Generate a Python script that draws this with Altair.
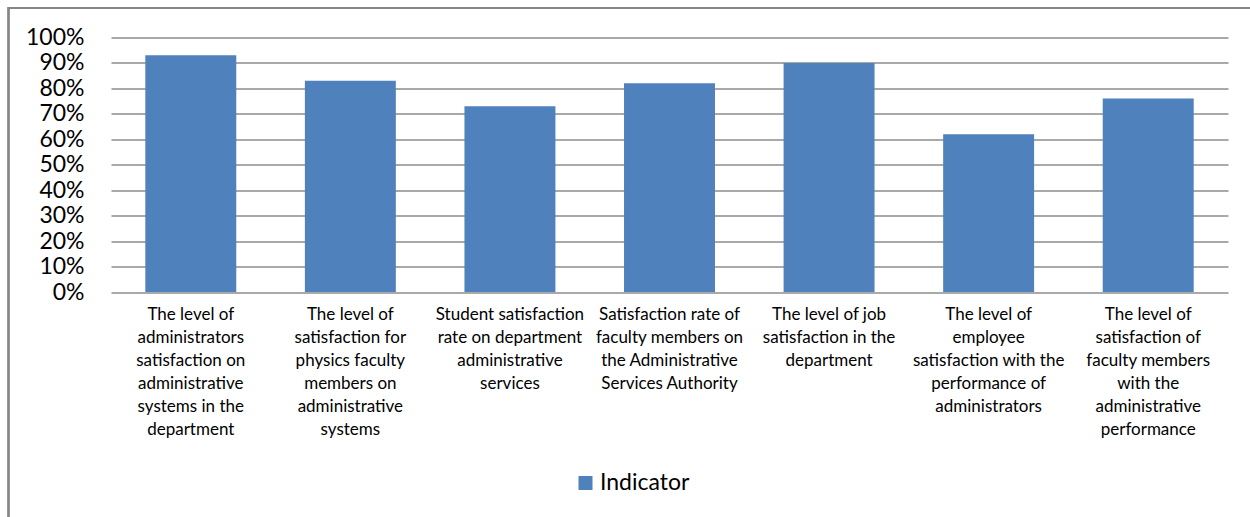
import altair as alt
import pandas as pd

# Indicator categories, each split into the lines shown under its bar
categories = [
    ["The level of", "administrators", "satisfaction on", "administrative", "systems in the", "department"],
    ["The level of", "satisfaction for", "physics faculty", "members on", "administrative", "systems"],
    ["Student satisfaction", "rate on department", "administrative", "services"],
    ["Satisfaction rate of", "faculty members on", "the Administrative", "Services Authority"],
    ["The level of job", "satisfaction in the", "department"],
    ["The level of", "employee", "satisfaction with the", "performance of", "administrators"],
    ["The level of", "satisfaction of", "faculty members", "with the", "administrative", "performance"],
]
values = [0.93, 0.83, 0.73, 0.82, 0.90, 0.62, 0.76]
series = ["Indicator"] * len(values)

labels = ["|".join(c) for c in categories]
df = pd.DataFrame({"category": labels, "value": values, "series": series})

FONT = "Lato"
W, H = 1117, 254.5

bars = alt.Chart(df).mark_bar(color="#4F81BD").encode(
    x=alt.X(
        "category:N",
        sort=labels,
        title=None,
        scale=alt.Scale(paddingInner=0.43, paddingOuter=0.215),
        axis=alt.Axis(
            labelAngle=0,
            labelExpr="split(datum.label, '|')",
            labelFont=FONT,
            labelFontSize=17,
            labelLineHeight=23,
            labelColor="#000000",
            labelPadding=14,
            labelBaseline="top",
            ticks=False,
            domain=False,
            labelLimit=0,
        ),
    ),
    y=alt.Y(
        "value:Q",
        title=None,
        scale=alt.Scale(domain=[0, 1]),
        axis=alt.Axis(
            format=".0%",
            values=[i / 10 for i in range(11)],
            labelFont=FONT,
            labelFontSize=23,
            labelColor="#000000",
            labelPadding=27,
            ticks=False,
            domain=False,
            grid=True,
            gridColor="#8c8c8c",
            gridWidth=1.4,
        ),
    ),
    color=alt.Color(
        "series:N",
        scale=alt.Scale(range=["#4F81BD"]),
        legend=alt.Legend(
            title=None,
            orient="none",
            legendX=463,
            legendY=434,
            symbolType="square",
            symbolSize=196,
            symbolStrokeWidth=0,
            labelFont=FONT,
            labelFontSize=23,
            labelColor="#000000",
            labelOffset=3,
        ),
    ),
)

# Outer frame around the whole chart
frame = alt.Chart(df).mark_rect(
    fill=None, stroke="#868686", strokeWidth=1.5
).encode(
    x=alt.value(-102.5),
    x2=alt.value(1150),
    y=alt.value(-29.5),
    y2=alt.value(500),
)

chart = (
    alt.layer(frame, bars)
    .properties(
        width=W,
        height=H,
        autosize=alt.AutoSizeParams(type="none"),
        padding={"left": 111, "top": 37.5, "right": 22, "bottom": 225},
        background="#ffffff",
    )
    .configure_view(stroke=None)
)

chart.save("out.html", embed_options={"renderer": "svg", "actions": False})
